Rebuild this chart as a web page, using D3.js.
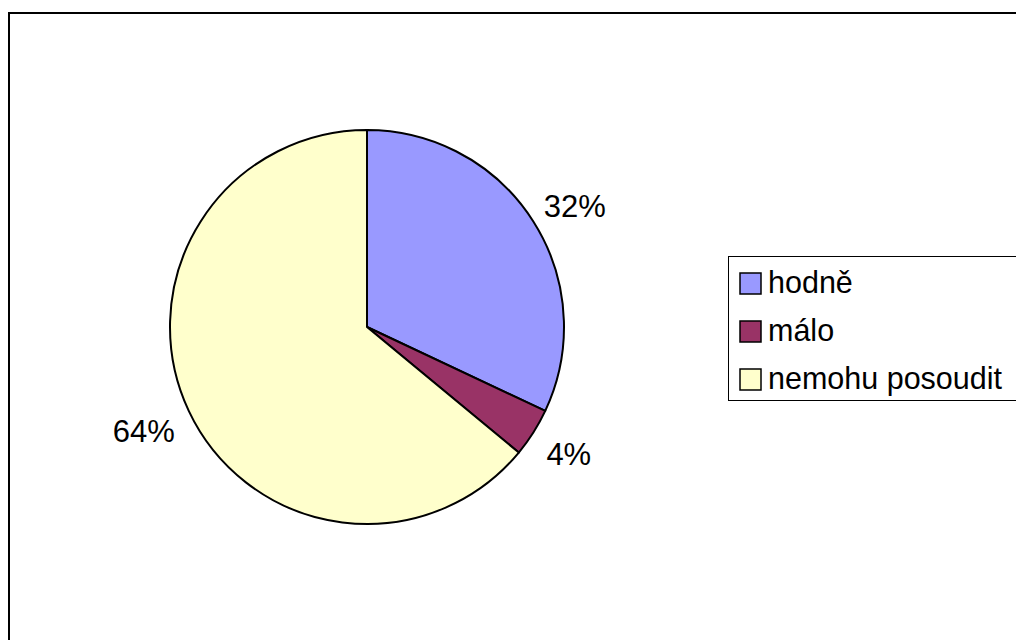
<!DOCTYPE html>
<html>
<head>
<meta charset="utf-8">
<script src="https://cdn.jsdelivr.net/npm/d3@7"></script>
<style>
  html, body { margin: 0; padding: 0; background: #fff; }
  svg { display: block; font-family: "Liberation Sans", Arial, sans-serif; }
</style>
</head>
<body>
<svg id="chart" width="1016" height="640"></svg>
<script>
// Answer categories and their shares (percent)
const categories = ["hodně", "málo", "nemohu posoudit"];
const values = [32, 4, 64];
const labels = ["32%", "4%", "64%"];
const colors = ["#9999FF", "#993366", "#FFFFCC"];

const svg = d3.select("#chart");
const W = 1016, H = 640;

// Chart area frame (runs past the right and bottom edges)
svg.append("rect")
  .attr("x", 9).attr("y", 13)
  .attr("width", W + 20).attr("height", H + 20)
  .attr("fill", "#fff")
  .attr("stroke", "#000")
  .attr("stroke-width", 2);

const cx = 367, cy = 327, r = 197;

const pie = d3.pie().sort(null).value(d => d.value);
const arcs = pie(categories.map((c, i) => ({ cat: c, value: values[i], label: labels[i], color: colors[i] })));
const arc = d3.arc().innerRadius(0).outerRadius(r);

const g = svg.append("g").attr("transform", `translate(${cx},${cy})`);

g.selectAll("path.slice")
  .data(arcs)
  .join("path")
  .attr("class", "slice")
  .attr("d", arc)
  .attr("fill", d => d.data.color)
  .attr("stroke", "#000")
  .attr("stroke-width", 2)
  .attr("stroke-linejoin", "round");

// Percentage labels placed just outside the rim
const labelArc = d3.arc().innerRadius(r + 42).outerRadius(r + 42);
const labelOffsets = [[6, 8], [0, -1], [-7, 3]];
g.selectAll("text.pct")
  .data(arcs)
  .join("text")
  .attr("class", "pct")
  .attr("x", (d, i) => labelArc.centroid(d)[0] + labelOffsets[i][0])
  .attr("y", (d, i) => labelArc.centroid(d)[1] + labelOffsets[i][1])
  .attr("text-anchor", "middle")
  .attr("dominant-baseline", "central")
  .attr("font-size", 31)
  .attr("fill", "#000")
  .text(d => d.data.label);

// Legend
const legend = svg.append("g");
legend.append("rect")
  .attr("x", 728.5).attr("y", 256.5)
  .attr("width", 320).attr("height", 144)
  .attr("fill", "#fff")
  .attr("stroke", "#000")
  .attr("stroke-width", 1);

const rowY = d3.scalePoint().domain(categories).range([283, 379]);
const item = legend.selectAll("g.item")
  .data(categories.map((c, i) => ({ cat: c, color: colors[i] })))
  .join("g")
  .attr("class", "item")
  .attr("transform", d => `translate(0,${rowY(d.cat)})`);

item.append("rect")
  .attr("x", 740).attr("y", -10)
  .attr("width", 21).attr("height", 21)
  .attr("fill", d => d.color)
  .attr("stroke", "#000")
  .attr("stroke-width", 1.5);

item.append("text")
  .attr("x", 768).attr("y", 10)
  .attr("font-size", 30.5)
  .attr("fill", "#000")
  .text(d => d.cat);
</script>
</body>
</html>
